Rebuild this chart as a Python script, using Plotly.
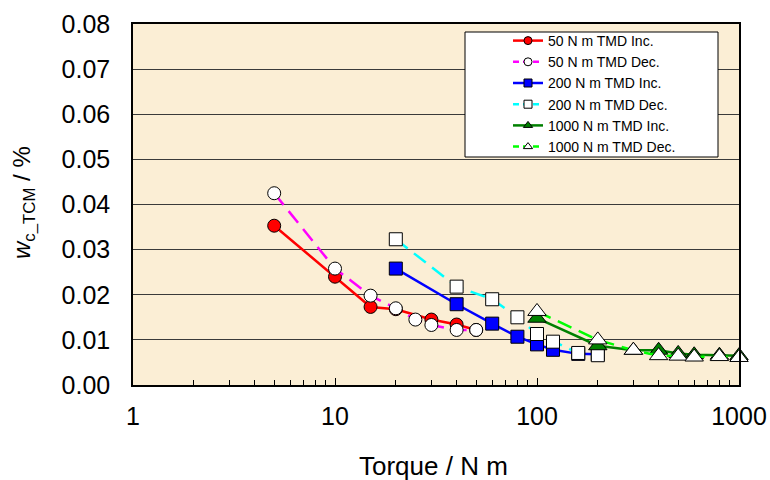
import plotly.graph_objects as go

# 50 N m TMD
t50_inc = [5, 10, 15, 20, 30, 40, 50]
w50_inc = [0.0353, 0.0240, 0.0173, 0.0168, 0.0145, 0.0134, 0.0122]
t50_dec = [5, 10, 15, 20, 25, 30, 40, 50]
w50_dec = [0.0425, 0.0258, 0.0198, 0.0170, 0.0145, 0.0133, 0.0122, 0.0122]
# 200 N m TMD
t200_inc = [20, 40, 60, 80, 100, 120, 160, 200]
w200_inc = [0.0258, 0.0179, 0.0136, 0.0107, 0.0090, 0.0078, 0.0069, 0.0068]
t200_dec = [20, 40, 60, 80, 100, 120, 160, 200]
w200_dec = [0.0323, 0.0218, 0.0190, 0.0150, 0.0113, 0.0096, 0.0071, 0.0066]
# 1000 N m TMD
t1000_inc = [100, 200, 300, 400, 500, 600, 800, 1000]
w1000_inc = [0.0148, 0.0087, 0.0077, 0.0077, 0.0070, 0.0067, 0.0066, 0.0065]
t1000_dec = [100, 200, 300, 400, 500, 600, 800, 1000]
w1000_dec = [0.0163, 0.0100, 0.0077, 0.0065, 0.0064, 0.0062, 0.0063, 0.0061]

x_ticks = [1, 10, 100, 1000]
x_minor = [m * d for d in (1, 10, 100) for m in range(2, 10)]
y_ticks = [0.00, 0.01, 0.02, 0.03, 0.04, 0.05, 0.06, 0.07, 0.08]

series = [
    ("50 N m TMD Inc.", t50_inc, w50_inc, "#FF0000", False, "circle", "#FF0000"),
    ("50 N m TMD Dec.", t50_dec, w50_dec, "#FF00FF", True, "circle", "#FFFFFF"),
    ("200 N m TMD Inc.", t200_inc, w200_inc, "#0000FF", False, "square", "#0000FF"),
    ("200 N m TMD Dec.", t200_dec, w200_dec, "#00FFFF", True, "square", "#FFFFFF"),
    ("1000 N m TMD Inc.", t1000_inc, w1000_inc, "#008000", False, "triangle-up", "#008000"),
    ("1000 N m TMD Dec.", t1000_dec, w1000_dec, "#00FF00", True, "triangle-up", "#FFFFFF"),
]

FONT = "Arial, Liberation Sans, sans-serif"

fig = go.Figure()
for name, x, y, lc, dashed, sym, fc in series:
    size = 16 if sym == "triangle-up" else 13
    fig.add_trace(go.Scatter(
        x=x, y=y, name=name, mode="lines+markers", showlegend=False, cliponaxis=False,
        line=dict(color=lc, width=2.5, dash="15px,8px" if dashed else "solid"),
        marker=dict(symbol=sym, size=size, color=fc, line=dict(color="#000000", width=1)),
    ))
# legend entries (smaller symbols, as in the reference legend)
for name, x, y, lc, dashed, sym, fc in series:
    fig.add_trace(go.Scatter(
        x=[None], y=[None], name=name, mode="lines+markers", showlegend=True,
        line=dict(color=lc, width=2.5, dash="6px,4px" if dashed else "solid"),
        marker=dict(symbol=sym, size=8, color=fc, line=dict(color="#000000", width=1)),
    ))

OFF = 0  # body margin removed by post_script below
L, R, T, B = 133, 31, 24, 95
W, H = 770, 480
pw, ph = W - L - R, H - T - B

def px_x(px):
    return (px - OFF - L) / pw

def px_y(py):
    return 1 - (py - OFF - T) / ph

fig.add_shape(type="rect", xref="paper", yref="paper",
              x0=px_x(465), x1=px_x(718), y0=px_y(157), y1=px_y(32),
              fillcolor="#FFFFFF", line=dict(color="#000000", width=1), layer="above")

fig.update_layout(
    width=W, height=H,
    margin=dict(l=L, r=R, t=T, b=B),
    paper_bgcolor="#FFFFFF",
    plot_bgcolor="#FBEED5",
    font=dict(family=FONT, color="#000000"),
    showlegend=True,
    legend=dict(
        x=px_x(508), y=px_y(25), xanchor="left", yanchor="top",
        bgcolor="rgba(0,0,0,0)", borderwidth=0,
        font=dict(size=14, family=FONT),
        tracegroupgap=0, itemwidth=30,
    ),
    xaxis=dict(
        type="log", range=[0, 3], automargin=False,
        tickvals=x_ticks, ticktext=[str(v) for v in x_ticks],
        tickfont=dict(size=25),
        showgrid=False, zeroline=False,
        showline=True, linecolor="#000000", linewidth=1.5, mirror=True,
        ticks="inside", ticklen=7, tickcolor="#000000",
        ticklabelstandoff=8,
        minor=dict(tickvals=x_minor, ticks="inside", ticklen=5, tickcolor="#000000", showgrid=False),
    ),
    yaxis=dict(
        range=[0, 0.08], automargin=False,
        tickvals=y_ticks, ticktext=[f"{v:.2f}" for v in y_ticks],
        tickfont=dict(size=25),
        showgrid=True, gridcolor="#3a3a3a", gridwidth=1,
        zeroline=False,
        showline=True, linecolor="#000000", linewidth=1.5, mirror=True,
        ticks="", ticklabelstandoff=16,
    ),
    annotations=[
        dict(text="Torque / N m", xref="paper", yref="paper",
             x=px_x(433), y=px_y(466), xanchor="center", yanchor="middle",
             showarrow=False, font=dict(size=26, family=FONT)),
        dict(text="<i>w</i><sub>c_TCM</sub> / %", xref="paper", yref="paper",
             x=px_x(24), y=px_y(203), xanchor="center", yanchor="middle",
             textangle=-90, showarrow=False, font=dict(size=24, family=FONT)),
    ],
)

fig.write_html(
    "out.html",
    config={"displayModeBar": False},
    post_script="document.body.style.margin='0';document.body.style.overflow='hidden';",
)
